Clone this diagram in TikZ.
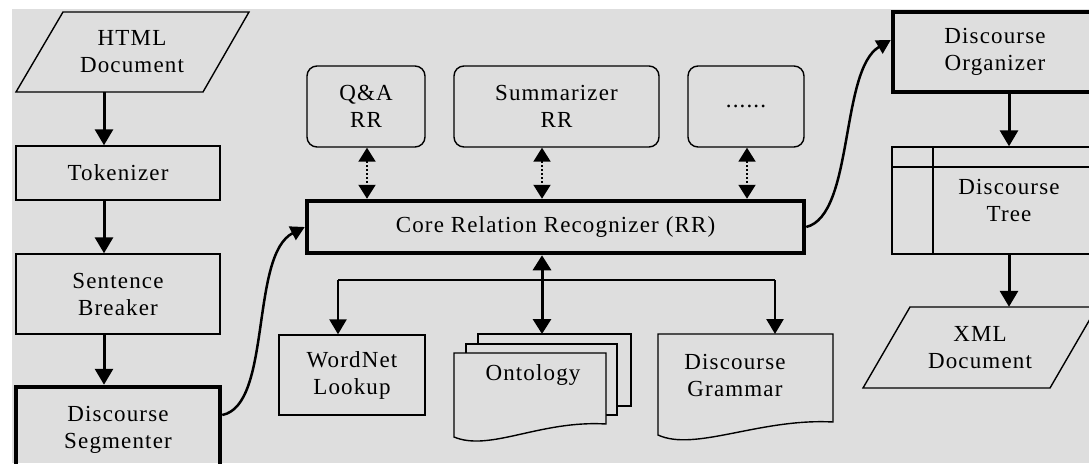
\documentclass[tikz,border=0pt]{standalone}
\usepackage{fontspec}
\setmainfont{Liberation Serif}[LetterSpace=5]
\usetikzlibrary{arrows.meta}

\definecolor{bggray}{RGB}{222,222,222}

\begin{document}
\begin{tikzpicture}[x=1pt,y=-1pt,
  every node/.style={font=\fontsize{23}{27}\selectfont, align=center, inner sep=0pt},
  fcbox/.style={draw, line width=1.4pt},
  fcthick/.style={draw, line width=4.5pt},
  fcround/.style={draw, line width=1.4pt, rounded corners=10pt},
  fcline/.style={draw, line width=1.4pt},
  fcsheet/.style={draw, fill=bggray, line width=1.4pt},
  fcarrow/.style={line width=3pt, -{Triangle[width=18pt,length=16pt]}},
  fccurve/.style={line width=2.5pt, -{Triangle[width=15pt,length=14pt]}},
  fclink/.style={line width=2.6pt, -{Triangle[width=17pt,length=15pt]}},
  fcboth/.style={line width=3pt, {Triangle[width=18pt,length=15pt]}-{Triangle[width=18pt,length=15pt]}},
  fcdots/.style={line width=2pt, dash pattern=on 2pt off 2pt,
    {Triangle[width=17pt,length=14pt]}-{Triangle[width=17pt,length=14pt]}},
  fcbus/.style={line width=2pt}
]
\useasboundingbox (0,0) rectangle (1089,463);
\clip (0,0) rectangle (1089,463);
\fill[white] (0,0) rectangle (1089,463);
\fill[bggray] (12,9) rectangle (1089,463);

% vertical guide positions of the connectors
\coordinate (xL) at (104,0);
\coordinate (xR) at (1009,0);
\coordinate (xM) at (542,0);
\coordinate (xQ) at (367,0);
\coordinate (xS) at (542,0);
\coordinate (xE) at (747,0);
\coordinate (xW) at (338,0);
\coordinate (xG) at (775,0);
\coordinate (bus) at (542,280);

% ---- input pipeline
\draw[fcline] (63,12) -- (249,12) -- (203,92) -- (16,92) -- cycle;
\node[minimum height=80pt] (html) at (132,52) {HTML\\Document};
\node[fcbox, minimum width=204pt, minimum height=54pt] (tok) at (118,173) {Tokenizer};
\node[fcbox, minimum width=204pt, minimum height=80pt] (sb) at (118,294) {Sentence\\Breaker};
\node[fcthick, minimum width=204pt, minimum height=86pt] (seg) at (118,430) {Discourse\\Segmenter};

% ---- relation recognizers
\node[fcthick, minimum width=497pt, minimum height=52pt] (core) at (555.5,227) {Core Relation Recognizer (RR)};
\node[fcround, minimum width=118pt, minimum height=81pt] (qa) at (366,106.5) {Q\&A\\RR};
\node[fcround, minimum width=205pt, minimum height=81pt] (sum) at (556.5,106.5) {Summarizer\\RR};
\node[fcround, minimum width=116pt, minimum height=81pt] (more) at (746,106.5) {......};

% ---- knowledge sources
\node[fcbox, minimum width=146pt, minimum height=80pt] (wn) at (352,375) {WordNet\\Lookup};

\draw[fcsheet] (478,334) rectangle (631,406);
\draw[fcsheet] (466,344) rectangle (617,415);
\draw[fcsheet] (454,353) -- (606,353) -- (606,424)
  .. controls (540,420) and (490,452) .. (454,437) -- cycle;
\node (onto) at (533,375) {Ontology};
\coordinate (ontoTop) at (542,334);

\draw[fcsheet] (658,334) -- (833,334) -- (833,422)
  .. controls (760,418) and (695,452) .. (658,435) -- cycle;
\node (dg) at (735,375) {Discourse\\Grammar};
\coordinate (dgTop) at (775,334);

% ---- output pipeline
\node[fcthick, minimum width=204pt, minimum height=80pt] (org) at (995,52) {Discourse\\Organizer};
\node[fcbox, minimum width=234pt, minimum height=107pt] (tree) at (1009,200.5) {Discourse\\Tree};
\draw[fcline] (892,167) -- (1095,167);
\draw[fcline] (933,147) -- (933,254);
\draw[fcline] (910,307) -- (1097,307) -- (1050,388) -- (863,388) -- cycle;
\node[minimum height=81pt] (xml) at (980,347.5) {XML\\Document};

% ---- connectors
\draw[fcarrow] (html.south -| xL) -- (tok.north -| xL);
\draw[fcarrow] (tok.south -| xL) -- (sb.north -| xL);
\draw[fcarrow] (sb.south -| xL) -- (seg.north -| xL);
\draw[fccurve] ([yshift=15pt]seg.east) .. controls +(50,-10) and +(-55,28) .. (core.west);

\draw[fcdots] (qa.south -| xQ) -- (core.north -| xQ);
\draw[fcdots] (sum.south -| xS) -- (core.north -| xS);
\draw[fcdots] (more.south -| xE) -- (core.north -| xE);

\draw[fcboth] (core.south -| xM) -- (ontoTop);
\draw[fcbus] (xW |- bus) -- (xG |- bus);
\draw[fclink] (xW |- bus) -- (wn.north -| xW);
\draw[fclink] (xG |- bus) -- (dgTop);

\draw[fccurve] (core.east) .. controls +(48,-12) and +(-51,30) .. ([yshift=12pt]org.west);
\draw[fcarrow] (org.south -| xR) -- (tree.north -| xR);
\draw[fcarrow] (tree.south -| xR) -- (xml.north -| xR);
\end{tikzpicture}
\end{document}
